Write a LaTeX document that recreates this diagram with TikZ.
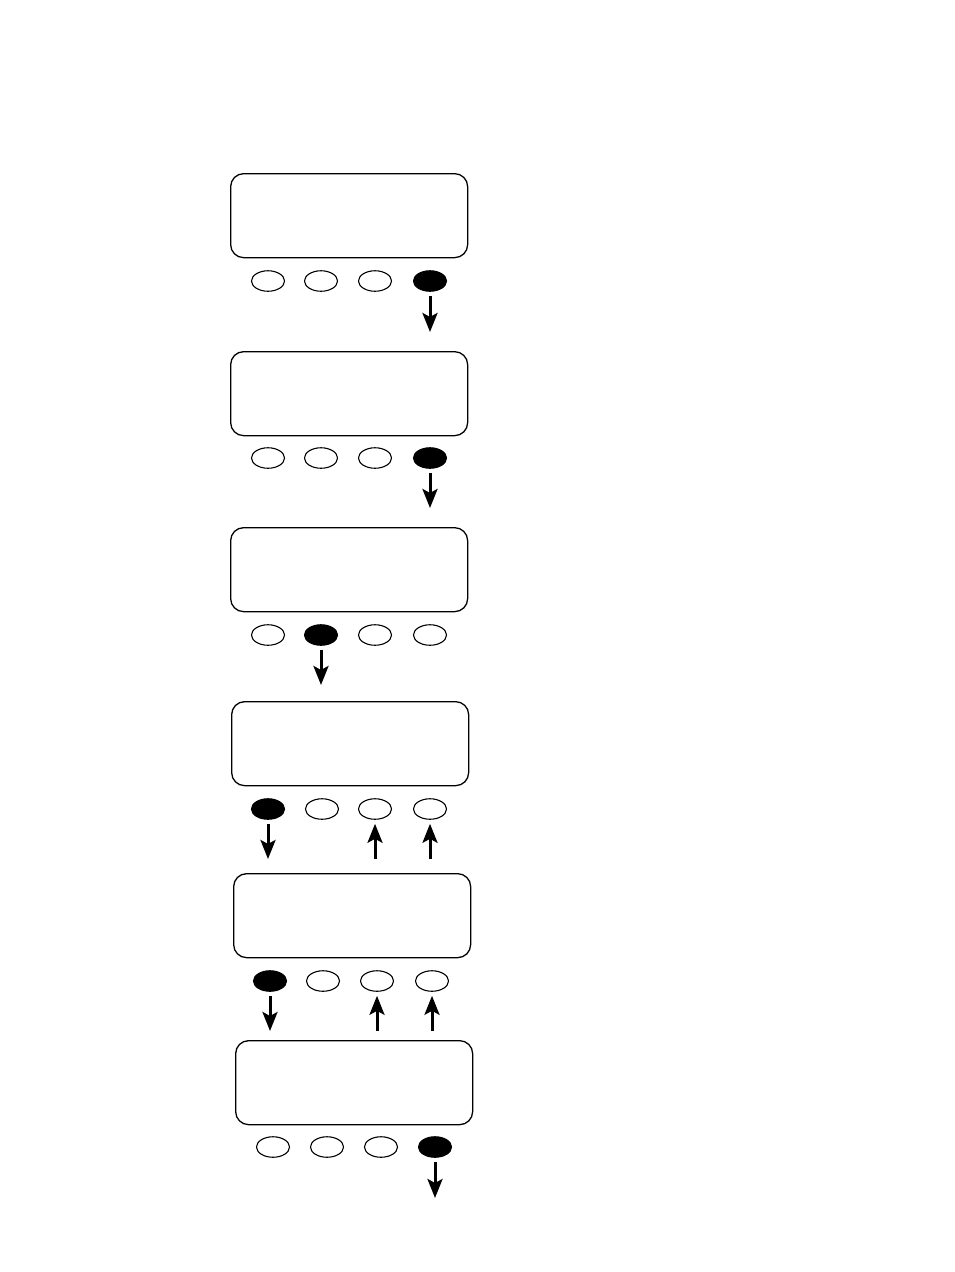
\documentclass[tikz,border=0pt]{standalone}
\usetikzlibrary{shapes.geometric,arrows.meta}
\begin{document}
\begin{tikzpicture}[x=1pt,y=-1pt,
  screen/.style={draw,line width=1.3pt,rounded corners=13pt,minimum width=237pt,minimum height=84pt,inner sep=0pt,anchor=north west},
  btn/.style={draw,ellipse,line width=1.1pt,minimum width=33pt,minimum height=20.5pt,inner sep=0pt},
  pressed/.style={btn,fill=black},
  push/.style={line width=3pt,-{Stealth[length=19pt,width=15pt,inset=4pt]}}]
\useasboundingbox (0,0) rectangle (954,1272);
% screen 1
\node[screen] (s1) at (230,173) {};
\node[btn] (b11) at (268,281) {};
\node[btn] (b12) at (321,281) {};
\node[btn] (b13) at (375,281) {};
\node[pressed] (b14) at (430,281) {};
\coordinate (e1) at (430,332);
\draw[push] ([yshift=-4pt]b14.south) -- (e1);
% screen 2
\node[screen] (s2) at (230,351) {};
\node[btn] (b21) at (268,458) {};
\node[btn] (b22) at (321,458) {};
\node[btn] (b23) at (375,458) {};
\node[pressed] (b24) at (430,458) {};
\coordinate (e2) at (430,508);
\draw[push] ([yshift=-4pt]b24.south) -- (e2);
% screen 3
\node[screen] (s3) at (230,527) {};
\node[btn] (b31) at (268,635) {};
\node[pressed] (b32) at (321,635) {};
\node[btn] (b33) at (375,635) {};
\node[btn] (b34) at (430,635) {};
\coordinate (e3) at (321,685);
\draw[push] ([yshift=-4pt]b32.south) -- (e3);
% screen 4
\node[screen] (s4) at (231,701) {};
\node[pressed] (b41) at (268,809) {};
\node[btn] (b42) at (322,809) {};
\node[btn] (b43) at (375,809) {};
\node[btn] (b44) at (430,809) {};
\coordinate (e41) at (268,859);
\coordinate (u43) at (375,859);
\coordinate (u44) at (430,859);
\draw[push] ([yshift=-4pt]b41.south) -- (e41);
\draw[push] (u43) -- ([yshift=-4pt]b43.south);
\draw[push] (u44) -- ([yshift=-4pt]b44.south);
% screen 5
\node[screen] (s5) at (233,873) {};
\node[pressed] (b51) at (270,981) {};
\node[btn] (b52) at (323,981) {};
\node[btn] (b53) at (377,981) {};
\node[btn] (b54) at (432,981) {};
\coordinate (e51) at (270,1031);
\coordinate (u53) at (377,1031);
\coordinate (u54) at (432,1031);
\draw[push] ([yshift=-4pt]b51.south) -- (e51);
\draw[push] (u53) -- ([yshift=-4pt]b53.south);
\draw[push] (u54) -- ([yshift=-4pt]b54.south);
% screen 6
\node[screen] (s6) at (235,1040) {};
\node[btn] (b61) at (273,1147) {};
\node[btn] (b62) at (327,1147) {};
\node[btn] (b63) at (381,1147) {};
\node[pressed] (b64) at (435,1147) {};
\coordinate (e6) at (435,1198);
\draw[push] ([yshift=-4pt]b64.south) -- (e6);
\end{tikzpicture}
\end{document}
